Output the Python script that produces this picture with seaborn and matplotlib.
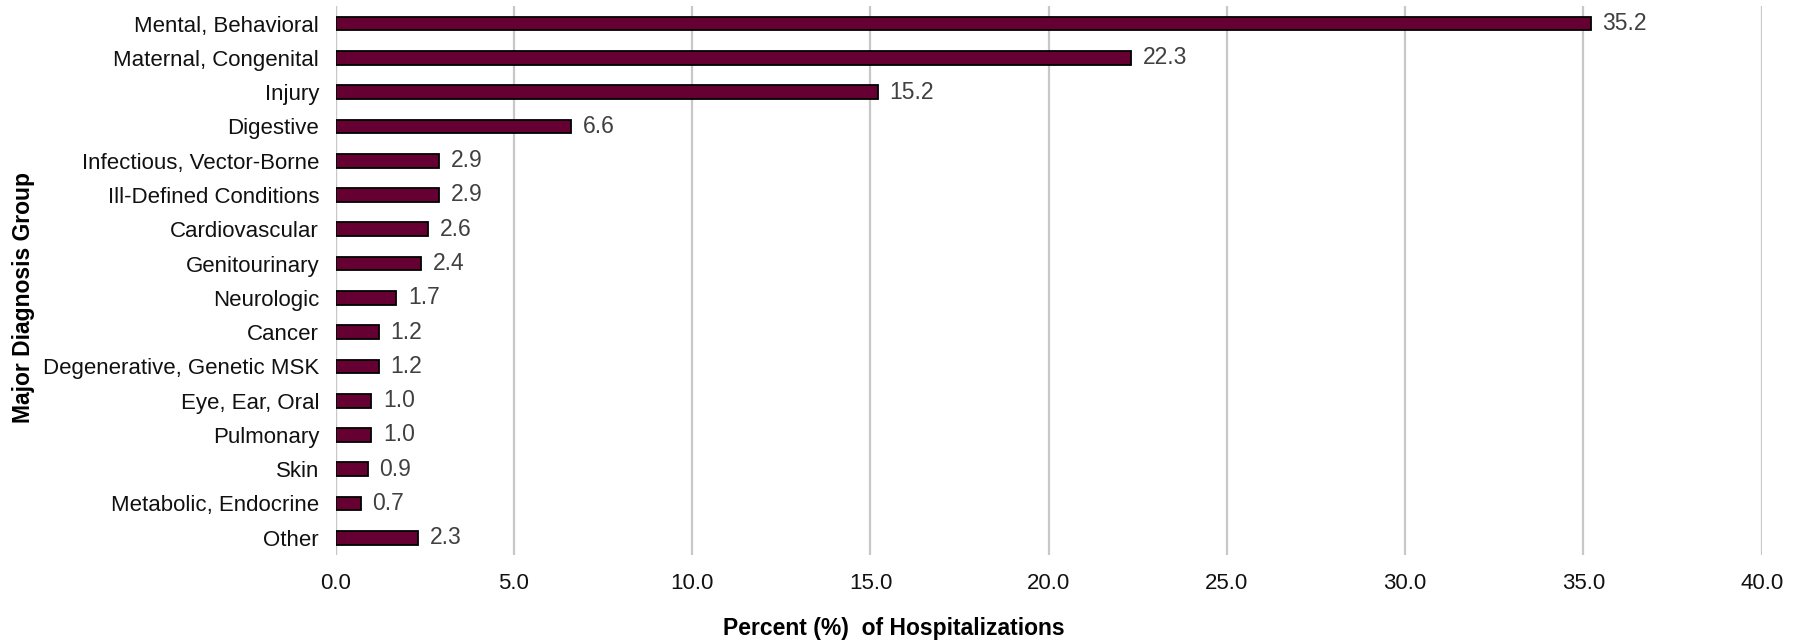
import matplotlib
matplotlib.use("Agg")
import matplotlib.pyplot as plt
import seaborn as sns
import pandas as pd

# data
kelompok = [
    "Mental, Behavioral", "Maternal, Congenital", "Injury", "Digestive",
    "Infectious, Vector-Borne", "Ill-Defined Conditions", "Cardiovascular",
    "Genitourinary", "Neurologic", "Cancer", "Degenerative, Genetic MSK",
    "Eye, Ear, Oral", "Pulmonary", "Skin", "Metabolic, Endocrine", "Other",
]
persen = [35.2, 22.3, 15.2, 6.6, 2.9, 2.9, 2.6, 2.4, 1.7, 1.2, 1.2, 1.0, 1.0, 0.9, 0.7, 2.3]
x_ticks = [0, 5, 10, 15, 20, 25, 30, 35, 40]

sns.set_theme(style="white")
plt.rcParams["font.family"] = ["Liberation Sans", "DejaVu Sans"]

df = pd.DataFrame({"kelompok": kelompok, "persen": persen})

fig, ax = plt.subplots(figsize=(18.05, 6.43), dpi=100)
fig.subplots_adjust(left=0.186, right=0.976, top=0.99, bottom=0.137)

sns.barplot(data=df, x="persen", y="kelompok", color="#660033", width=0.4,
            edgecolor="black", linewidth=1.3, saturation=1, ax=ax, zorder=3)

# nilai di ujung batang
for i, v in enumerate(persen):
    ax.text(v + 0.33, i, f"{v:.1f}", va="center", ha="left",
            fontsize=16.5, color="#404040")

ax.set_xlim(0, 40)
ax.set_ylim(len(kelompok) - 0.5, -0.5)
ax.set_xticks(x_ticks)
ax.set_xticklabels([f"{t:.1f}" for t in x_ticks], fontsize=16, color="#111111")
ax.tick_params(axis="y", labelsize=16, labelcolor="#111111", length=0, pad=12)
ax.tick_params(axis="x", length=0, pad=13)
ax.xaxis.grid(True, color="#c8c8c8", linewidth=1.6, zorder=0)
ax.set_axisbelow(True)
for s in ["top", "right", "bottom", "left"]:
    ax.spines[s].set_visible(False)
ax.axvline(0, color="#c8c8c8", linewidth=1.6, zorder=1)

ax.set_xlabel("Percent (%)  of Hospitalizations", fontsize=16.5, fontweight="bold",
              color="black", va="center")
ax.xaxis.set_label_coords(0.495, 0.022, transform=fig.transFigure)
ax.set_ylabel("Major Diagnosis Group", fontsize=16.5, fontweight="bold",
              color="black", va="center")
ax.yaxis.set_label_coords(0.013, 0.537, transform=fig.transFigure)

plt.savefig("out.png", dpi=100)
plt.close()
